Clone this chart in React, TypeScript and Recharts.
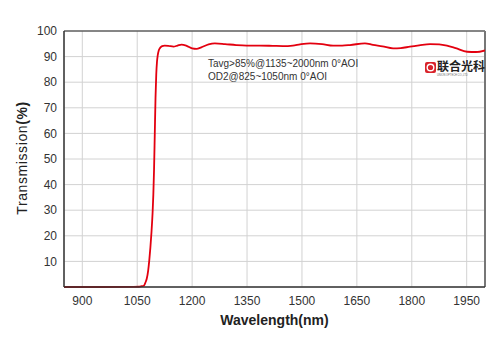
import {
  LineChart,
  Line,
  XAxis,
  YAxis,
  CartesianGrid,
  ReferenceLine,
} from "recharts";

// wavelength (nm)
const wavelengths = [
  850, 950, 1040, 1055, 1062, 1068, 1072, 1076, 1080, 1083, 1086, 1089, 1092,
  1094, 1096, 1098, 1100, 1102, 1104, 1106, 1109, 1113, 1118, 1125, 1135, 1149,
  1160, 1171, 1185, 1200, 1212, 1225, 1245, 1262, 1290, 1320, 1349, 1385, 1420,
  1448, 1475, 1495, 1522, 1555, 1585, 1610, 1631, 1672, 1694, 1720, 1749, 1770,
  1795, 1820, 1850, 1875, 1896, 1920, 1951, 1975, 2000,
];

// transmission (%)
const transmission = [
  0, 0, 0.05, 0.1, 0.3, 0.5, 1.6, 3.2, 6.5, 10.5, 15.5, 21.5, 29, 36, 46, 60,
  74, 83, 88, 90.5, 92.5, 93.5, 94.1, 94.3, 94.2, 93.9, 94.3, 94.7, 94.2, 93.2,
  93.0, 93.6, 94.8, 95.2, 94.9, 94.5, 94.3, 94.3, 94.2, 94.1, 94.3, 94.8, 95.2,
  94.9, 94.3, 94.3, 94.5, 95.2, 94.6, 94.0, 93.2, 93.3, 93.9, 94.4, 94.9, 94.8,
  94.3, 93.3, 91.9, 91.8, 92.4,
];

const xTicks = [900, 1050, 1200, 1350, 1500, 1650, 1800, 1950];
const yTicks = [10, 20, 30, 40, 50, 60, 70, 80, 90, 100];

const notes = ["Tavg>85%@1135~2000nm 0°AOI", "OD2@825~1050nm 0°AOI"];

const data = wavelengths.map((wl, i) => ({ wl, t: transmission[i] }));

const FONT = "'Liberation Sans', Arial, sans-serif";

function YTitle() {
  return (
    <text
      x={27}
      y={158}
      transform="rotate(-90 27 158)"
      textAnchor="middle"
      fontFamily={FONT}
      fontSize={14}
      fill="#222"
      letterSpacing={0.6}
    >
      Transmission<tspan fontWeight="bold">(%)</tspan>
    </text>
  );
}

export default function App() {
  return (
    <div style={{ position: "relative", width: 500, height: 353 }}>
      <style>{"body{margin:0;background:#fff}"}</style>
      <LineChart
        width={500}
        height={353}
        data={data}
        margin={{ top: 31, right: 15, bottom: 36, left: 4 }}
      >
        <CartesianGrid stroke="#d2d2d2" strokeWidth={1} />
        <XAxis
          dataKey="wl"
          type="number"
          domain={[850, 2000]}
          ticks={xTicks}
          allowDataOverflow
          height={30}
          tickLine={false}
          tickSize={0}
          tickMargin={9}
          stroke="#333"
          strokeWidth={1.5}
          tick={{ fill: "#333", fontSize: 12, fontFamily: FONT }}
          label={{
            value: "Wavelength(nm)",
            position: "insideBottom",
            offset: -8,
            fill: "#222",
            fontSize: 14,
            fontWeight: "bold",
            fontFamily: FONT,
          }}
        />
        <YAxis
          type="number"
          domain={[0, 100]}
          ticks={yTicks}
          width={60}
          tickLine={false}
          tickSize={0}
          tickMargin={7}
          stroke="#333"
          strokeWidth={1.5}
          tick={{ fill: "#333", fontSize: 12, fontFamily: FONT }}
          label={{ content: () => <YTitle /> }}
        />
        <ReferenceLine y={100} stroke="#222" strokeWidth={1} />
        <ReferenceLine x={2000} stroke="#777" strokeWidth={2} />
        <Line
          dataKey="t"
          type="monotone"
          stroke="#e3000f"
          strokeWidth={1.8}
          dot={false}
          isAnimationActive={false}
        />
      </LineChart>
      <svg
        width={500}
        height={353}
        style={{ position: "absolute", left: 0, top: 0, pointerEvents: "none" }}
      >
        {notes.map((n, i) => (
          <text
            key={n}
            x={208}
            y={67 + i * 12.5}
            fontFamily={FONT}
            fontSize={10}
            fill="#333"
          >
            {n}
          </text>
        ))}
        <rect x={425} y={62} width={11} height={11} rx={2} fill="#d9232a" />
        <circle cx={430.5} cy={67.5} r={3.3} fill="none" stroke="#fff" strokeWidth={1.4} />
        <text
          x={437}
          y={71}
          fontFamily="'Noto Sans CJK SC', sans-serif"
          fontWeight="bold"
          fontSize={12}
          fill="#222"
        >
          联合光科
        </text>
        <text x={437} y={75.5} fontFamily={FONT} fontSize={2.6} fill="#666">
          UNION OPTECH CO.,LTD
        </text>
      </svg>
    </div>
  );
}
